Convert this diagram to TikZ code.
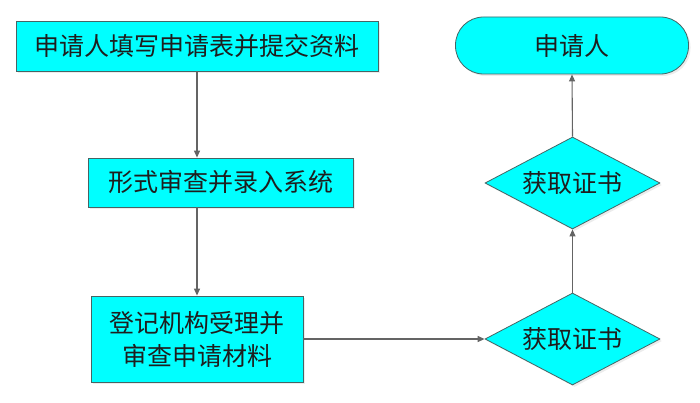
\documentclass[tikz,border=0pt]{standalone}
\usepackage{fontspec}
\newfontfamily\cjk{Noto Sans CJK SC}
\usetikzlibrary{shapes.geometric, arrows.meta, shadows}
\definecolor{boxfill}{RGB}{0,255,255}
\definecolor{boxline}{RGB}{70,100,100}
\definecolor{flowline}{RGB}{100,100,100}
\definecolor{textcol}{RGB}{30,30,30}

\begin{document}
\begin{tikzpicture}[x=1pt, y=-1pt,
  every node/.style={font=\cjk\fontsize{25}{33}\selectfont, text=textcol},
  shade/.style={drop shadow={opacity=0.15, shadow xshift=2pt, shadow yshift=-2pt}},
  stepbox/.style={draw=boxline, fill=boxfill, line width=0.8pt, inner sep=0pt, align=center, shade},
  decide/.style={diamond, aspect=1.9, draw=boxline, fill=boxfill, line width=0.8pt, inner sep=0pt, shade},
  flow/.style={draw=flowline, line width=1.1pt, -{Triangle[length=7pt, width=6pt]}}]
  \useasboundingbox (0,0) rectangle (700,403);

  \node[stepbox, minimum width=362pt, minimum height=50pt] (fill) at (197,46) {申请人填写申请表并提交资料};
  \node[stepbox, minimum width=265pt, minimum height=49pt] (check) at (220.5,182.5) {形式审查并录入系统};
  \node[stepbox, minimum width=212pt, minimum height=86pt] (accept) at (197,339) {登记机构受理并\\审查申请材料};

  \node[decide, minimum width=175pt, minimum height=92pt] (certlow) at (572.5,339) {获取证书};
  \node[decide, minimum width=175pt, minimum height=92pt] (certup) at (572.5,183) {获取证书};
  \node[stepbox, rounded corners=28pt, minimum width=233pt, minimum height=57pt] (applicant) at (572,45.5) {申请人};

  \draw[flow] (fill) -- (fill |- check.north);
  \draw[flow] (accept |- check.south) -- (accept.north);
  \draw[flow] (accept.east) -- (certlow.west);
  \draw[flow] (certlow.north) -- (certup.south);
  \draw[flow] (certup.north) -- (applicant.south);
\end{tikzpicture}
\end{document}
